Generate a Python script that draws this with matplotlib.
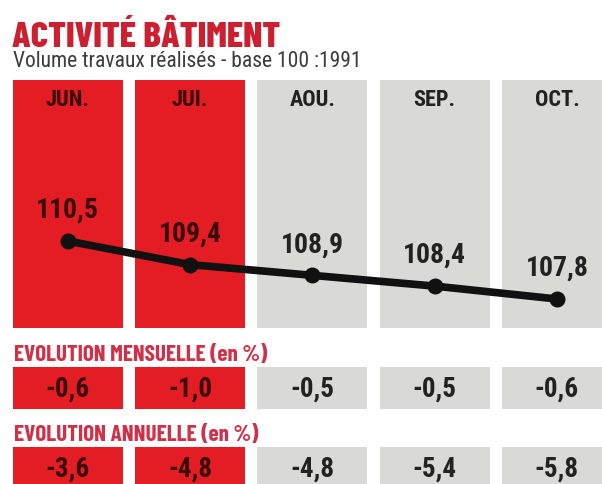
import matplotlib
matplotlib.use("Agg")
import matplotlib.pyplot as plt

# ---- data ----
months = ["JUN.", "JUI.", "AOU.", "SEP.", "OCT."]
volume = [110.5, 109.4, 108.9, 108.4, 107.8]
volume_labels = ["110,5", "109,4", "108,9", "108,4", "107,8"]
evol_mensuelle = ["-0,6", "-1,0", "-0,5", "-0,5", "-0,6"]
evol_annuelle = ["-3,6", "-4,8", "-4,8", "-5,4", "-5,8"]
highlighted = [True, True, False, False, False]

title = "ACTIVITÉ BÂTIMENT"
subtitle = "Volume travaux réalisés - base 100 :1991"
label_mens = "EVOLUTION MENSUELLE (en %)"
label_ann = "EVOLUTION ANNUELLE (en %)"

# ---- style ----
FONT = ["Roboto Condensed", "DejaVu Sans"]
HEAVY = ["Barlow Condensed", "Roboto Condensed", "DejaVu Sans"]
plt.rcParams["font.family"] = FONT

RED = "#e41d25"
GRAY = "#d9d9d5"
TITLE_RED = "#cc1f30"
LABEL_RED = "#d03048"
DARK = "#222222"
DARK_ON_RED = "#3a0c0c"

W, H = 602, 484
fig = plt.figure(figsize=(W / 100, H / 100), dpi=100)
fig.patch.set_facecolor("white")
renderer = fig.canvas.get_renderer()


def fit_width(t, target_px):
    w = t.get_window_extent(renderer=renderer).width
    if w > 0:
        t.set_fontsize(t.get_fontsize() * target_px / w)
    return t


def ax_at(top_px, bottom_px):
    return fig.add_axes([0, 1 - bottom_px / H, 1, (bottom_px - top_px) / H])


# x mapping: column centers at 67.7 + 122.3*i px
x0, step = 67.7, 122.3
xlim = (-x0 / step, (W - x0) / step)
bar_w = 110 / step
xs = list(range(len(months)))
colors = [RED if h else GRAY for h in highlighted]

# ---- main panel ----
ax = ax_at(80, 328)
ylo, yhi = 106.45, 117.99
ax.set_xlim(*xlim)
ax.set_ylim(ylo, yhi)
ax.axis("off")
ax.bar(xs, [yhi - ylo] * len(xs), bottom=ylo, width=bar_w, color=colors, zorder=1)
ax.plot(xs, volume, color="#111111", lw=5.5, marker="o", ms=10.5,
        solid_capstyle="round", zorder=3)
for i, m in enumerate(months):
    tc = DARK_ON_RED if highlighted[i] else DARK
    ax.text(i, 1 - (100 - 80) / (328 - 80), m, transform=ax.get_xaxis_transform(),
            ha="center", va="center", fontsize=16, fontweight="heavy", color=tc)
    ax.annotate(volume_labels[i], (i, volume[i]), xytext=(0, 22),
                textcoords="offset points", ha="center", va="center",
                fontsize=20, fontweight="heavy", color=tc, zorder=4)


# ---- evolution boxes ----
def box_row(top_px, bottom_px, values):
    a = ax_at(top_px, bottom_px)
    a.set_xlim(*xlim)
    a.set_ylim(0, 1)
    a.axis("off")
    a.bar(xs, [1] * len(xs), bottom=0, width=bar_w, color=colors)
    for i, v in enumerate(values):
        tc = DARK_ON_RED if highlighted[i] else DARK
        a.text(i, 0.47, v, ha="center", va="center", fontsize=19.5,
               fontweight="heavy", color=tc)
    return a


box_row(367, 409, evol_mensuelle)
box_row(447, 489, evol_annuelle)


# ---- texts ----
def ftext(xpx, ypx, s, **kw):
    return fig.text(xpx / W, 1 - ypx / H, s, **kw)


fit_width(ftext(12, 47, title, fontsize=24, fontweight=800, color=TITLE_RED,
                va="baseline", family=HEAVY), 268)
fit_width(ftext(13, 67, subtitle, fontsize=13.5, color="#3c3c3c", va="baseline"), 349)
fit_width(ftext(14, 361, label_mens, fontsize=14, fontweight=700, color=LABEL_RED,
                va="baseline", family=HEAVY), 254)
fit_width(ftext(14, 441, label_ann, fontsize=14, fontweight=700, color=LABEL_RED,
                va="baseline", family=HEAVY), 245)

fig.savefig("out.png", dpi=100, facecolor="white")
